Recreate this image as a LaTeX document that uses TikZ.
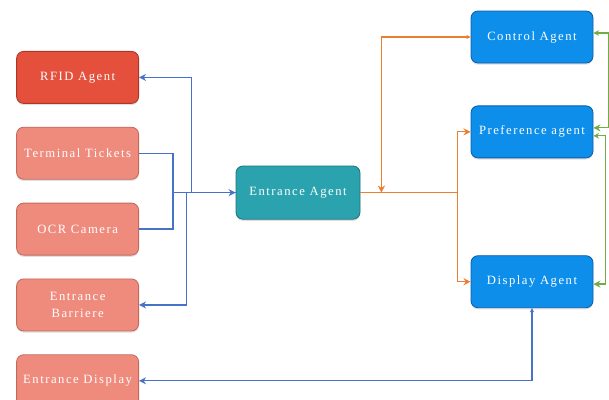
\documentclass[tikz,border=0pt]{standalone}
\usepackage{fontspec}
\setmainfont{Liberation Serif}
\newfontfamily\boxfont[LetterSpace=12]{Liberation Serif}
\usetikzlibrary{arrows.meta,positioning,calc,shadows}
\definecolor{rfidred}{RGB}{228,80,60}
\definecolor{rfidborder}{RGB}{170,55,40}
\definecolor{salmon}{RGB}{239,139,125}
\definecolor{salmonborder}{RGB}{195,105,92}
\definecolor{teal}{RGB}{43,163,174}
\definecolor{tealborder}{RGB}{30,115,125}
\definecolor{agentblue}{RGB}{12,142,234}
\definecolor{agentborder}{RGB}{10,95,170}
\definecolor{linkblue}{RGB}{70,115,200}
\definecolor{linkorange}{RGB}{237,125,49}
\definecolor{linkgreen}{RGB}{112,173,71}

\begin{document}
\begin{tikzpicture}[
  agentbox/.style={rectangle,rounded corners=5pt,line width=0.6pt,
                   minimum width=3.05cm,minimum height=1.3cm,align=center,
                   text=white,font=\boxfont\fontsize{9}{11}\selectfont,
                   drop shadow={opacity=0.25,shadow xshift=0pt,shadow yshift=-1.2pt}},
  redbox/.style={agentbox,draw=rfidborder,fill=rfidred},
  salmonbox/.style={agentbox,draw=salmonborder,fill=salmon},
  tealbox/.style={agentbox,draw=tealborder,fill=teal,minimum width=3.1cm,minimum height=1.33cm},
  bluebox/.style={agentbox,draw=agentborder,fill=agentblue},
  bline/.style={line width=0.9pt,color=linkblue},
  barr/.style={bline,-{Stealth[length=5pt,width=5pt]}},
  oarr/.style={line width=0.9pt,color=linkorange,-{Stealth[length=5pt,width=5pt]}},
  garr/.style={line width=0.9pt,color=linkgreen,
               {Stealth[length=4pt,width=4pt]}-{Stealth[length=5pt,width=5pt]}},
  node distance=0.575cm
]
\useasboundingbox (0,0) rectangle (15.225,9.975);

% left column
\node[redbox] (RFID) at (1.94,8.04) {RFID Agent};
\node[salmonbox, below=of RFID] (TT) {Terminal Tickets};
\node[salmonbox, below=of TT] (OCR) {OCR Camera};
\node[salmonbox, below=of OCR] (EB) {Entrance\\[1pt]Barriere};
\node[salmonbox, below=of EB] (ED) {Entrance Display};

% middle
\node[tealbox] (EA) at (7.45,5.16) {Entrance Agent};

% right column
\node[bluebox] (CA) at (13.3,9.05) {Control Agent};
\node[bluebox, below=1.05cm of CA] (PA) {Preference agent};
\node[bluebox, below=2.425cm of PA] (DA) {Display Agent};

% blue links
\draw[bline] (TT.east) -- ++(0.85,0) |- (EA.west);
\draw[barr] (OCR.east) -- ++(0.85,0) |- (EA.west);
\draw[barr] ($(EA.west)+(-1.1,0)$) |- (RFID.east);
\draw[barr] ($(EA.west)+(-1.225,0)$) |- (EB.east);
\draw[barr, {Stealth[length=3pt,width=3pt]}-{Stealth[length=5pt,width=5pt]}]
  (DA.south) |- (ED.east);

% orange links
\draw[oarr] (EA.east) -- ++(2.425,0) coordinate (ojoin) |- (PA.west);
\draw[oarr] (ojoin) |- (DA.west);
\draw[oarr, {Stealth[length=3pt,width=3pt]}-{Stealth[length=5pt,width=5pt]}]
  (CA.west) -| ($(EA.east)+(0.525,0)$);

% green links
\draw[garr] ([yshift=0.1cm]CA.east) -- ++(0.375,0) |- ([yshift=0.1cm]PA.east);
\draw[garr] ([yshift=-0.1cm]PA.east) -- ++(0.3,0) |- ([yshift=-0.06cm]DA.east);

\end{tikzpicture}
\end{document}
